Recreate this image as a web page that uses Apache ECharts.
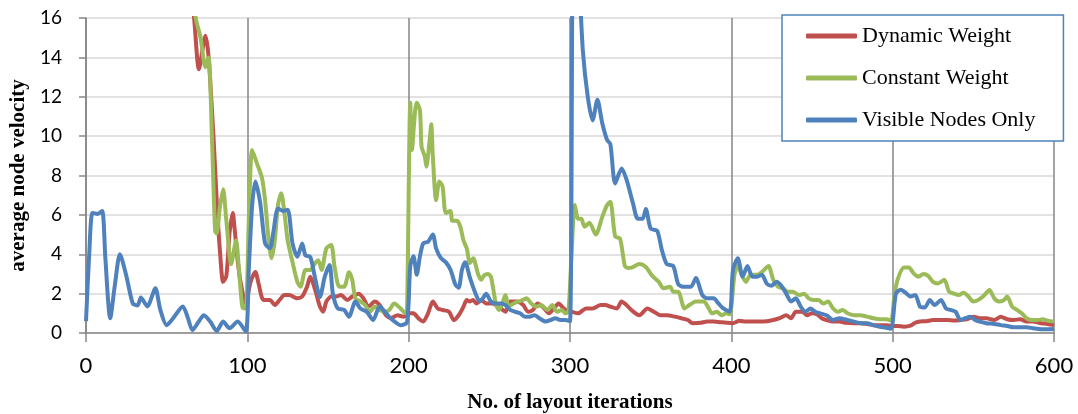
<!DOCTYPE html>
<html>
<head>
<meta charset="utf-8">
<script src="https://cdn.jsdelivr.net/npm/echarts@6/dist/echarts.min.js"></script>
<style>
html,body{margin:0;padding:0;background:#fff;}
#chart{width:1078px;height:414px;}
</style>
</head>
<body>
<div id="chart"></div>
<script>
const seriesNames = ['Dynamic Weight', 'Constant Weight', 'Visible Nodes Only'];
const xTicks = [0, 100, 200, 300, 400, 500, 600];
const yTicks = [0, 2, 4, 6, 8, 10, 12, 14, 16];

const dynX = [0,10,20,30,40,50,60,64,67,70,74,76,79,81,83,85,87,89,91,92,94,96,99,102,105,107,110,114,117,120,123,126,131,134,137,139,142,145,147,149,152,155,158,162,165,169,172,175,179,182,186,189,193,197,201,203,206,209,212,215,218,221,225,228,231,234,236,238,240,242,245,248,252,257,260,263,267,271,274,277,280,283,287,290,293,296,299,301,305,310,314,319,322,325,329,332,335,338,343,348,352,356,360,365,369,373,376,381,385,389,393,397,401,405,409,414,418,422,426,430,434,437,440,444,447,450,453,456,459,463,467,471,476,480,484,488,492,496,499,503,507,511,514,517,521,525,530,534,538,542,546,550,554,558,563,567,571,575,579,583,587,592,596,600];
const dynY = [60,50,42,36,30,25,20,18,16.0,13.4,15.1,14.0,10.0,6.75,4.2,2.6,2.9,5.1,6.1,5.4,3.7,2.5,1.5,2.6,3.1,2.5,1.68,1.68,1.42,1.68,1.93,1.93,1.76,1.85,2.35,2.86,2.2,1.34,1.08,1.6,1.85,1.85,1.93,1.68,1.85,2.0,1.76,1.34,1.6,1.42,0.9,0.75,0.9,0.83,1.0,1.0,0.75,0.58,1.0,1.6,1.25,1.17,1.08,0.66,0.9,1.34,1.68,1.6,1.68,1.5,1.68,1.5,1.5,1.25,1.08,1.6,1.6,1.42,1.08,1.17,1.5,1.34,1.0,1.25,1.5,1.25,1.1,1.08,1.0,1.25,1.25,1.42,1.42,1.34,1.25,1.6,1.42,1.17,0.9,1.25,1.08,0.9,0.9,0.83,0.75,0.66,0.5,0.52,0.58,0.58,0.55,0.52,0.5,0.62,0.58,0.58,0.58,0.6,0.66,0.75,0.9,0.75,1.08,1.08,0.9,1.0,0.95,0.75,0.66,0.58,0.58,0.52,0.5,0.5,0.46,0.4,0.4,0.4,0.36,0.36,0.32,0.37,0.52,0.58,0.6,0.66,0.66,0.66,0.63,0.66,0.7,0.83,0.75,0.75,0.66,0.83,0.7,0.66,0.7,0.58,0.58,0.5,0.46,0.4];

const conX = [0,10,20,30,40,50,60,65,68,71,74,76,78,80,81,83,85,87,90,93,95,97,99,101,103,106,109,111,113,115,117,119,121,123,125,128,131,133,136,139,142,144,146,149,152,154,157,160,163,165,167,170,173,176,179,182,185,188,191,195,198,199,201,202,204,205,207,208,210,211,213,214,215,217,219,221,223,226,227,230,232,234,236,238,240,243,245,247,249,251,254,256,258,260,262,265,268,271,273,276,279,282,286,289,292,295,297,299,301,303,305,307,309,312,316,320,323,325,328,331,334,336,339,343,347,351,355,358,362,364,367,371,374,378,383,386,388,391,394,397,399,402,404,406,409,412,416,419,423,426,429,432,435,438,442,445,448,451,454,457,460,463,466,469,472,476,480,484,488,492,496,499,501,503,507,510,513,516,519,522,525,528,532,535,538,541,544,547,550,553,556,560,563,566,569,571,574,577,580,583,586,590,593,596,600];
const conY = [60,52,45,38,32,27,22,18.5,16.0,15.0,13.5,14.0,10.1,5.2,5.06,6.4,7.3,5.7,3.5,4.7,3.0,1.3,1.25,6.0,9.3,8.6,7.9,6.75,4.9,3.8,4.7,6.5,7.1,6.1,4.7,3.6,2.6,2.35,3.2,3.2,3.55,3.7,3.2,4.3,4.47,3.4,2.35,2.35,3.08,2.7,1.76,1.6,1.42,1.08,1.34,1.17,1.08,1.17,1.5,1.25,1.0,1.2,11.7,9.3,11.3,11.7,11.3,9.46,8.96,8.45,9.8,10.6,8.96,6.75,7.7,7.45,6.1,6.2,5.7,5.7,5.4,4.7,4.3,3.55,3.8,3.0,2.7,2.95,3.0,2.86,1.5,1.17,1.5,1.93,1.34,1.5,1.6,1.68,1.76,1.5,1.34,1.42,1.17,1.42,1.08,1.17,1.0,1.08,4.1,6.5,5.8,5.8,5.4,5.6,5.0,5.9,6.5,6.67,4.9,4.8,3.4,3.3,3.35,3.5,3.35,2.9,2.6,2.27,2.35,2.1,2.1,1.25,1.42,1.6,1.6,1.25,1.0,1.08,0.9,1.0,0.95,3.0,3.4,3.05,2.6,2.96,2.96,3.1,3.4,2.7,2.35,2.27,2.1,2.1,1.93,2.0,1.76,1.68,1.68,1.5,1.6,1.25,1.08,1.17,1.0,0.9,0.9,0.83,0.75,0.7,0.7,0.63,1.85,2.7,3.33,3.33,3.03,2.86,3.0,2.9,2.6,2.52,2.7,2.1,2.0,1.93,2.05,1.85,1.6,1.68,1.85,2.18,1.76,1.6,1.68,1.85,1.34,1.17,1.0,0.75,0.66,0.66,0.7,0.63,0.58];

const visX = [0,2,4,7,10,12,15,18,21,25,29,32,34,38,43,46,50,54,60,63,66,70,73,77,81,85,89,94,99,101,103,105,108,111,114,116,119,122,125,128,131,134,136,139,142,145,148,151,153,156,160,163,167,170,174,178,182,186,190,195,199,201,203,205,207,209,212,215,217,220,223,226,229,231,233,235,238,241,244,246,248,251,254,257,260,263,266,269,272,275,278,281,285,288,291,294,297,300,302,304,306,308,311,314,317,320,323,325,328,332,335,339,342,345,347,350,354,357,360,364,367,370,375,378,382,385,389,392,395,399,401,404,407,410,413,416,419,422,425,428,431,434,437,440,443,446,449,452,455,459,463,467,472,476,480,484,488,492,496,499,502,505,508,511,514,517,520,523,526,530,533,536,539,542,545,548,551,554,558,563,567,571,575,579,583,587,592,596,600];
const visY = [0.6,4.0,6.1,6.05,6.2,3.8,0.75,2.5,4.0,2.9,1.5,1.4,1.8,1.35,2.27,1.2,0.4,0.75,1.35,0.8,0.15,0.6,0.9,0.58,0.1,0.58,0.24,0.58,0.07,3.4,6.5,7.7,6.6,4.55,4.3,5.06,6.33,6.2,6.26,4.55,3.87,4.55,3.94,3.87,2.78,1.83,2.86,3.45,2.0,1.25,1.17,0.83,1.6,1.25,1.08,0.66,1.34,1.0,0.66,0.4,0.55,3.4,3.9,2.96,3.9,4.55,4.64,5.0,4.3,3.8,3.6,3.2,2.45,2.3,3.2,3.6,2.8,2.1,1.6,1.76,2.0,1.6,1.5,1.5,1.42,1.17,1.08,1.0,0.83,0.83,0.9,0.75,0.58,0.66,0.75,0.66,0.66,0.6,22,21,17.5,14.3,12.0,10.8,11.85,10.65,9.8,9.6,7.6,8.36,7.8,6.6,5.8,5.8,6.3,5.3,5.2,4.2,3.5,3.4,2.5,2.35,2.35,2.8,1.93,1.76,1.76,1.5,1.25,1.08,3.2,3.8,2.86,3.4,2.86,2.86,2.96,2.5,2.4,2.6,2.4,2.0,1.6,1.76,1.34,1.08,1.25,1.08,1.0,0.9,0.66,0.75,0.66,0.58,0.5,0.5,0.4,0.32,0.27,0.22,2.0,2.2,2.05,1.85,1.93,1.34,1.3,1.68,1.42,1.68,1.25,1.17,1.08,0.66,0.75,0.83,0.66,0.58,0.5,0.46,0.4,0.36,0.29,0.29,0.29,0.24,0.19,0.19,0.2];

const colors = ['#C0504D', '#9BBB59', '#4F81BD'];
function pairs(xs, ys) { return xs.map((x, i) => [x, ys[i]]); }
const allData = [pairs(dynX, dynY), pairs(conX, conY), pairs(visX, visY)];

const chart = echarts.init(document.getElementById('chart'), null, {renderer: 'canvas'});
chart.setOption({
  animation: false,
  backgroundColor: '#ffffff',
  grid: {left: 86, right: 24, top: 18, bottom: 81, containLabel: false, outerBoundsMode: 'none'},
  legend: {
    orient: 'vertical',
    left: 782, top: 15,
    padding: [10, 28, 10, 24],
    itemGap: 20,
    itemWidth: 51, itemHeight: 5,
    icon: 'roundRect',
    borderColor: '#4F81BD', borderWidth: 1.5,
    backgroundColor: '#ffffff',
    textStyle: {fontFamily: 'Liberation Serif', fontSize: 22, color: '#000'},
    data: seriesNames
  },
  xAxis: {
    type: 'value', min: xTicks[0], max: xTicks[xTicks.length - 1], interval: 100,
    name: 'No. of layout iterations', nameLocation: 'middle', nameGap: 59,
    nameTextStyle: {fontFamily: 'Liberation Serif', fontWeight: 'bold', fontSize: 21, color: '#000'},
    axisLine: {show: true, lineStyle: {color: '#868686', width: 1.5}},
    axisTick: {show: true, length: 9, lineStyle: {color: '#868686', width: 1.5}},
    axisLabel: {fontFamily: 'Lato', fontSize: 22, color: '#000', margin: 22},
    splitLine: {show: true, lineStyle: {color: '#868686', width: 1.5}}
  },
  yAxis: {
    type: 'value', min: yTicks[0], max: yTicks[yTicks.length - 1], interval: 2,
    name: 'average node velocity', nameLocation: 'middle', nameGap: 56,
    nameTextStyle: {fontFamily: 'Liberation Serif', fontWeight: 'bold', fontSize: 21, color: '#000'},
    axisLine: {show: true, lineStyle: {color: '#868686', width: 1.5}},
    axisTick: {show: true, length: 7, lineStyle: {color: '#868686', width: 1.5}},
    axisLabel: {fontFamily: 'Lato', fontSize: 19, color: '#000', margin: 24},
    splitLine: {show: true, lineStyle: {color: '#D9D9D9', width: 1.5}}
  },
  series: seriesNames.map((name, k) => ({
    name: name,
    type: 'line',
    data: allData[k],
    smooth: 0.25,
    showSymbol: false,
    symbol: 'none',
    clip: true,
    color: colors[k],
    lineStyle: {color: colors[k], width: 4},
    z: 2 + k
  }))
});
</script>
</body>
</html>
